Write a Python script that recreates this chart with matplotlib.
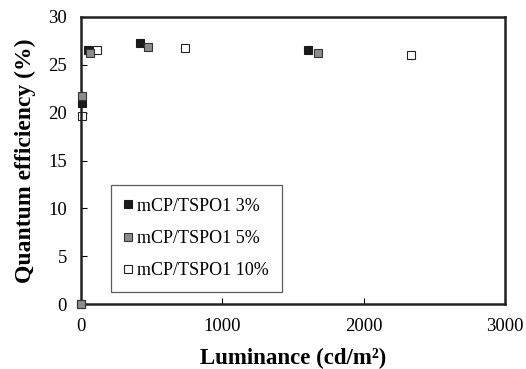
import matplotlib
matplotlib.use("Agg")
import matplotlib.pyplot as plt

plt.rcParams['font.family'] = ['Liberation Serif', 'DejaVu Serif']

labels = ["mCP/TSPO1 3%", "mCP/TSPO1 5%", "mCP/TSPO1 10%"]
x3 = [0, 10, 50, 417, 1607]
y3 = [0, 21.0, 26.5, 27.3, 26.6]
x5 = [0, 5, 61, 472, 1680]
y5 = [0, 21.7, 26.2, 26.9, 26.2]
x10 = [5, 113, 736, 2335]
y10 = [19.7, 26.5, 26.8, 26.0]

fig = plt.figure(figsize=(5.26, 3.69), dpi=100)
ax = fig.add_axes([0.154, 0.176, 0.806, 0.778])

ms = 6
ax.plot(x3, y3, 's', ms=ms, mfc='#1a1a1a', mec='#1a1a1a', mew=0.8, label=labels[0], zorder=3, clip_on=False)
ax.plot(x5, y5, 's', ms=ms, mfc='#8c8c8c', mec='#333333', mew=0.8, label=labels[1], zorder=4, clip_on=False)
ax.plot(x10, y10, 's', ms=ms, mfc='white', mec='#222222', mew=0.8, label=labels[2], zorder=2, clip_on=False)

ax.set_xlim(0, 3000)
ax.set_ylim(0, 30)
ax.set_xticks([0, 1000, 2000, 3000])
ax.set_yticks([0, 5, 10, 15, 20, 25, 30])
ax.tick_params(direction='in', length=4, width=0.8, labelsize=13.5)
ax.tick_params(axis='x', pad=10)
ax.tick_params(axis='y', pad=10)
for s in ax.spines.values():
    s.set_linewidth(1.8)
    s.set_color('#222222')

ax.set_xlabel('Luminance (cd/m²)', fontsize=16.5, fontweight='bold', labelpad=9)
ax.set_ylabel('Quantum efficiency (%)', fontsize=17, fontweight='bold', labelpad=9)

leg = ax.legend(loc='lower left', bbox_to_anchor=(0.071, 0.042), fontsize=13,
                frameon=True, fancybox=False, edgecolor='#333333',
                handlelength=0.5, handletextpad=0.25, labelspacing=0.85,
                markerscale=0.95, borderpad=0.7, borderaxespad=0)
leg.get_frame().set_linewidth(0.9)

fig.savefig('out.png', dpi=100)
